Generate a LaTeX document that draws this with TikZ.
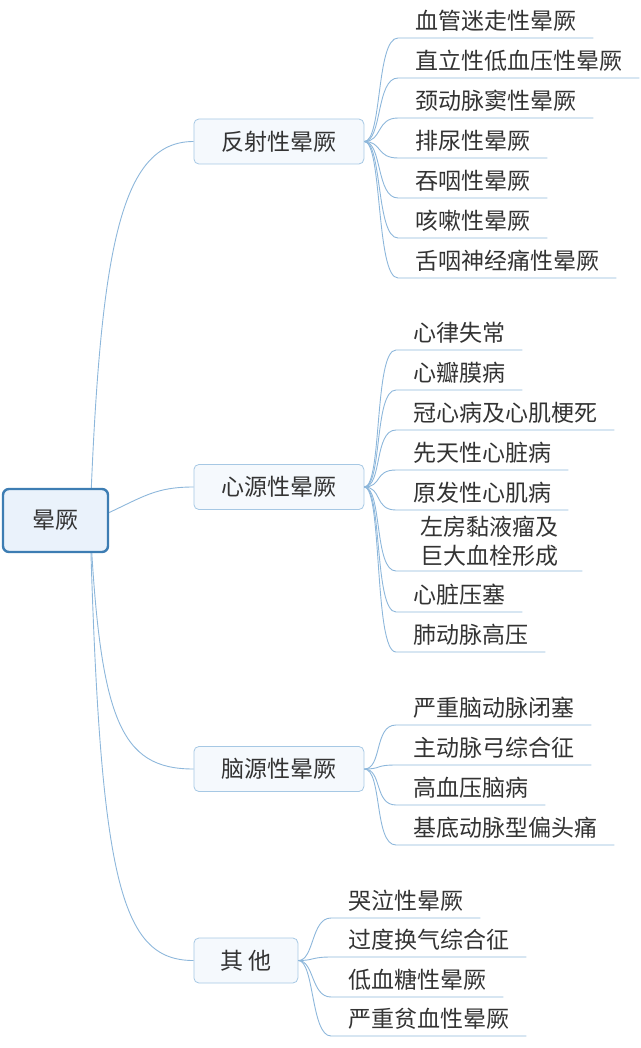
\documentclass[tikz,border=0pt]{standalone}
\usepackage{fontspec}
\setmainfont{Noto Sans CJK SC}
\definecolor{linkblue}{HTML}{8DB7DB}
\definecolor{rootline}{HTML}{3D7DB3}
\definecolor{rootfill}{HTML}{EAF2FB}
\definecolor{boxline}{HTML}{A6C8E4}
\definecolor{boxfill}{HTML}{F5F9FD}
\definecolor{txt}{HTML}{333333}
\newcommand{\bigfont}{\fontsize{23}{29}\selectfont}

\begin{document}
\begin{tikzpicture}[x=1pt,y=-1pt,
    link/.style={draw=linkblue,line width=0.9pt},
    rootbox/.style={draw=rootline,fill=rootfill,line width=2.4pt,rounded corners=6pt,
      minimum width=105pt,minimum height=63pt,font=\bigfont,text=txt},
    topic/.style={draw=boxline,fill=boxfill,line width=0.8pt,rounded corners=5pt,
      anchor=west,minimum height=45pt,font=\bigfont,text=txt},
    leaf/.style={anchor=south west,inner xsep=17pt,inner ysep=4.5pt,font=\bigfont,text=txt},
    oneline/.style={leaf,text height=19pt,text depth=4pt}]
  \useasboundingbox (0,0) rectangle (640,1048);

  % main topics
  \node[topic,minimum width=170pt] (refl) at (193.5,141.5) {反射性晕厥};
  \node[topic,minimum width=170pt] (card) at (193.5,487) {心源性晕厥};
  \node[topic,minimum width=170pt] (cereb) at (193.5,769) {脑源性晕厥};
  \node[topic,minimum width=104pt] (other) at (193.5,960.5) {其 他};

  % reflex
  \foreach \n/\y/\t in {r1/38/血管迷走性晕厥, r2/78/直立性低血压性晕厥, r3/118/颈动脉窦性晕厥,
      r4/158/排尿性晕厥, r5/198/吞咽性晕厥, r6/238/咳嗽性晕厥, r7/278/舌咽神经痛性晕厥}{
    \node[oneline] (\n) at (398,\y) {\t};
    \draw[link] (refl.east) .. controls +(18,0) and +(-22,0) .. (\n.south west) -- (\n.south east);
  }

  % cardiac
  \foreach \n/\y/\t in {c1/350/心律失常, c2/390/心瓣膜病, c3/430/冠心病及心肌梗死,
      c4/470/先天性心脏病, c5/510/原发性心肌病, c7/612/心脏压塞, c8/652/肺动脉高压}{
    \node[oneline] (\n) at (396,\y) {\t};
    \draw[link] (card.east) .. controls +(18,0) and +(-22,0) .. (\n.south west) -- (\n.south east);
  }
  \node[leaf,align=center,inner xsep=24pt] (c6) at (396,571) {左房黏液瘤及\\巨大血栓形成};
  \draw[link] (card.east) .. controls +(18,0) and +(-22,0) .. (c6.south west) -- (c6.south east);

  % cerebral
  \foreach \n/\y/\t in {b1/725/严重脑动脉闭塞, b2/765/主动脉弓综合征,
      b3/805/高血压脑病, b4/845/基底动脉型偏头痛}{
    \node[oneline] (\n) at (396,\y) {\t};
    \draw[link] (cereb.east) .. controls +(18,0) and +(-22,0) .. (\n.south west) -- (\n.south east);
  }

  % other
  \foreach \n/\y/\t in {o1/918/哭泣性晕厥, o2/957/过度换气综合征,
      o3/997/低血糖性晕厥, o4/1036/严重贫血性晕厥}{
    \node[oneline] (\n) at (331,\y) {\t};
    \draw[link] (other.east) .. controls +(16,0) and +(-20,0) .. (\n.south west) -- (\n.south east);
  }

  % root and its links (drawn under the root box)
  \coordinate (hub) at (90,521);
  \draw[link] (hub) .. controls (100,250) and (120,141.5) .. (refl.west);
  \draw[link] (hub) .. controls (140,500) and (150,487) .. (card.west);
  \draw[link] (hub) .. controls (100,720) and (120,769) .. (cereb.west);
  \draw[link] (hub) .. controls (100,880) and (120,960.5) .. (other.west);
  \node[rootbox] (root) at (55.5,520.5) {晕厥};
\end{tikzpicture}
\end{document}
